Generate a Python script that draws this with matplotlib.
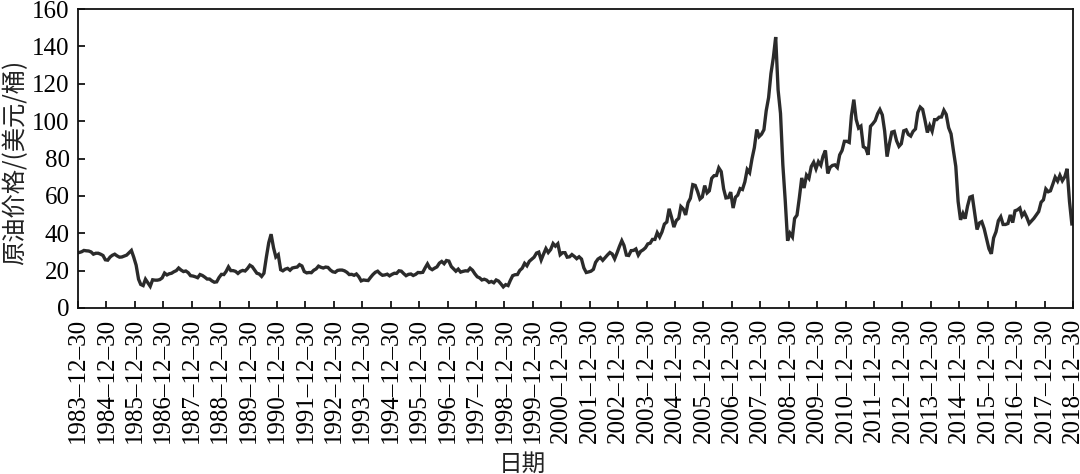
import matplotlib
matplotlib.use("Agg")
import matplotlib.pyplot as plt
import pandas as pd

# Monthly crude oil price (USD/barrel), Dec 1983 .. Dec 2018, one row per year
first_month = "1983-12"
monthly_price = [
    29.5,
    29.7, 30.1, 30.8, 30.6, 30.5, 30.0, 28.8, 29.3, 29.3, 28.8, 28.1, 25.8,   # 1984
    25.6, 27.3, 28.2, 28.8, 27.9, 27.2, 27.3, 27.8, 28.3, 29.5, 30.8, 27.2,   # 1985
    22.9, 15.4, 12.6, 12.0, 15.4, 13.5, 11.6, 15.1, 14.9, 14.9, 15.2, 16.1,   # 1986
    18.7, 17.7, 18.3, 18.6, 19.4, 20.0, 21.4, 20.3, 19.5, 19.8, 18.9, 17.3,   # 1987
    17.1, 16.7, 16.2, 17.9, 17.4, 16.5, 15.5, 15.5, 14.5, 13.8, 14.0, 16.3,   # 1988
    18.0, 17.9, 19.5, 22.0, 20.0, 20.0, 19.6, 18.5, 19.6, 20.1, 19.8, 21.1,   # 1989
    22.9, 22.1, 20.4, 18.6, 18.2, 16.9, 18.6, 27.2, 35.0, 39.5, 32.3, 27.3,   # 1990
    28.5, 20.5, 19.9, 20.8, 21.2, 20.2, 21.4, 21.7, 21.9, 23.2, 22.5, 19.5,   # 1991
    18.8, 19.0, 18.9, 20.2, 20.9, 22.4, 21.8, 21.4, 21.9, 21.7, 20.3, 19.4,   # 1992
    19.1, 20.1, 20.3, 20.3, 19.9, 19.1, 17.9, 18.0, 17.5, 18.2, 16.7, 14.5,   # 1993
    15.0, 14.8, 14.7, 16.4, 17.9, 19.1, 19.7, 18.4, 17.5, 17.7, 18.1, 17.2,   # 1994
    18.0, 18.6, 18.5, 19.9, 19.7, 18.4, 17.3, 18.0, 18.2, 17.4, 18.0, 19.0,   # 1995
    18.9, 19.1, 21.4, 23.6, 21.3, 20.5, 21.3, 22.0, 24.0, 24.9, 23.7, 25.4,   # 1996
    25.1, 22.2, 21.0, 19.7, 20.8, 19.2, 19.6, 19.9, 19.8, 21.3, 20.2, 18.3,   # 1997
    16.7, 16.1, 15.0, 15.4, 14.9, 13.7, 14.2, 13.5, 15.0, 14.4, 12.9, 11.3,   # 1998
    12.5, 12.0, 14.7, 17.3, 17.8, 17.9, 20.1, 21.3, 23.9, 22.6, 25.0, 26.1,   # 1999
    27.2, 29.4, 29.9, 25.7, 28.8, 31.8, 29.7, 31.3, 34.5, 33.1, 34.4, 28.5,   # 2000
    29.6, 29.6, 27.2, 27.4, 28.6, 27.6, 26.4, 27.4, 26.2, 21.5, 19.0, 19.3,   # 2001
    19.7, 20.7, 24.4, 26.2, 27.0, 25.5, 26.9, 28.4, 29.7, 28.9, 26.3, 29.4,   # 2002
    32.9, 36.0, 33.5, 28.3, 28.1, 30.7, 30.8, 31.6, 28.3, 30.3, 31.1, 32.2,   # 2003
    34.3, 34.7, 36.7, 36.7, 40.3, 38.0, 40.7, 44.9, 46.0, 53.1, 48.5, 43.3,   # 2004
    46.8, 48.0, 54.3, 53.0, 49.8, 56.3, 58.7, 66.0, 65.6, 62.4, 58.3, 59.4,   # 2005
    65.5, 61.6, 62.7, 69.4, 70.8, 70.9, 75.0, 73.0, 63.8, 58.9, 59.1, 62.0,   # 2006
    53.5, 59.3, 60.4, 63.9, 63.4, 67.5, 74.1, 72.4, 79.9, 85.8, 95.5, 91.7,   # 2007
    93.0, 95.4, 105.5, 112.6, 125.4, 134.0, 145.0, 116.7, 104.1, 76.6, 57.3, 36.0,   # 2008
    40.0, 38.0, 47.9, 49.7, 59.0, 69.6, 64.2, 71.1, 69.4, 75.7, 78.0, 74.5,   # 2009
    78.3, 76.4, 81.2, 84.3, 72.0, 75.3, 76.3, 76.6, 75.2, 81.9, 84.3, 89.2,   # 2010
    89.2, 88.6, 102.9, 111.5, 100.9, 96.3, 97.3, 86.3, 85.5, 82.0, 97.2, 98.6,   # 2011
    100.3, 104.0, 106.2, 103.3, 94.7, 81.0, 87.9, 94.1, 94.5, 89.5, 86.5, 87.9,   # 2012
    94.8, 95.3, 92.9, 92.0, 94.5, 95.8, 104.6, 107.5, 106.3, 100.5, 93.9, 97.6,   # 2013
    94.6, 100.8, 100.8, 102.1, 102.2, 105.8, 103.6, 96.5, 93.2, 84.4, 75.8, 57.0,   # 2014
    47.2, 50.6, 47.8, 54.5, 59.3, 59.8, 50.9, 42.0, 45.5, 46.2, 42.4, 37.2,   # 2015
    31.7, 29.0, 37.5, 40.8, 46.7, 48.8, 44.7, 44.7, 45.2, 49.8, 45.7, 52.0,   # 2016
    52.5, 53.5, 49.3, 51.1, 48.5, 45.2, 46.6, 48.0, 49.8, 51.6, 56.6, 57.9,   # 2017
    63.7, 62.2, 62.7, 66.3, 70.0, 67.9, 71.0, 68.1, 70.2, 74.5, 57.0, 45.0,   # 2018
]
tick_years = list(range(1983, 2019))
tick_labels = [f"{y}\u201312\u201330" for y in tick_years]
y_ticks = [0, 20, 40, 60, 80, 100, 120, 140, 160]

dates = pd.date_range(first_month, periods=len(monthly_price), freq="MS") + pd.Timedelta(days=14)
tick_dates = [pd.Timestamp(f"{y}-12-30") for y in tick_years]

plt.rcParams["font.family"] = ["Liberation Serif", "Noto Sans CJK SC"]
fig = plt.figure(figsize=(10.8, 4.74), dpi=100)
ax = fig.add_axes([78/1080, 1 - 308/474, (1073-78)/1080, (308-9)/474])

ax.plot(dates, monthly_price, color="#2b2b2b", lw=2.4, solid_joinstyle="miter")

ax.set_xlim(tick_dates[0], tick_dates[-1])
ax.set_ylim(0, 160)
ax.set_yticks(y_ticks)
ax.set_xticks(tick_dates)
ax.set_xticklabels(tick_labels, rotation=90, fontsize=18)
ax.tick_params(axis="y", labelsize=18, direction="in", length=5, width=1.2, pad=6)
ax.tick_params(axis="x", direction="in", length=5, width=1.2, pad=7)
for s in ax.spines.values():
    s.set_linewidth(1.3)
    s.set_color("#111111")

fig.text(15/1080, 1 - 162/474, "原油价格/(美元/桶)", rotation=90, ha="center", va="center",
         fontsize=17.5, family=["Noto Sans CJK SC", "DejaVu Sans"], color="#222222")
fig.text(522/1080, 1 - 464/474, "日期", ha="center", va="center",
         fontsize=17, family=["Noto Sans CJK SC", "DejaVu Sans"], color="#222222")

fig.savefig("out.png", dpi=100)
